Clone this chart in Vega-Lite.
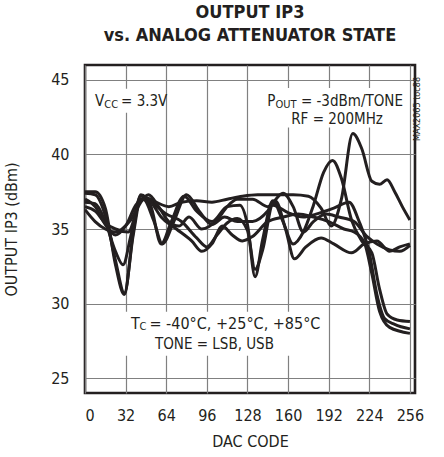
{
  "$schema": "https://vega.github.io/schema/vega-lite/v6.json",
  "width": 330,
  "height": 328,
  "autosize": {"type": "none"},
  "padding": {"left": 85, "top": 65, "right": 29, "bottom": 64},
  "background": "white",
  "config": {
    "font": "DejaVu Sans Condensed, sans-serif",
    "view": {"stroke": "#231f20", "strokeWidth": 2.6},
    "axis": {
      "domain": false, "ticks": false, "grid": true, "gridColor": "#808080", "gridWidth": 1.2, "gridOpacity": 1,
      "labelFont": "DejaVu Sans Condensed, sans-serif", "labelFontSize": 16, "labelColor": "#231f20",
      "titleFont": "DejaVu Sans Condensed, sans-serif", "titleFontSize": 16, "titleFontWeight": "normal", "titleColor": "#231f20"
    }
  },
  "title": {
    "text": ["OUTPUT IP3", "vs. ANALOG ATTENUATOR STATE"],
    "font": "DejaVu Sans Condensed, sans-serif",
    "fontSize": 18, "fontWeight": "bold", "lineHeight": 23, "color": "#231f20",
    "anchor": "middle", "offset": 20
  },
  "datasets": {
    "curves": [
      {"c": "A", "x": 0, "y": 37.5}, {"c": "A", "x": 8, "y": 37.5}, {"c": "A", "x": 16, "y": 36.4}, {"c": "A", "x": 24, "y": 32.6}, {"c": "A", "x": 31, "y": 30.6}, {"c": "A", "x": 38, "y": 34.8}, {"c": "A", "x": 44, "y": 37.3}, {"c": "A", "x": 52, "y": 36.5}, {"c": "A", "x": 60, "y": 34.0}, {"c": "A", "x": 68, "y": 35.5}, {"c": "A", "x": 78, "y": 37.2}, {"c": "A", "x": 88, "y": 36.2}, {"c": "A", "x": 100, "y": 35.5}, {"c": "A", "x": 112, "y": 36.5}, {"c": "A", "x": 122, "y": 36.6}, {"c": "A", "x": 128, "y": 35.3}, {"c": "A", "x": 134, "y": 31.8}, {"c": "A", "x": 140, "y": 34.3}, {"c": "A", "x": 148, "y": 36.9}, {"c": "A", "x": 156, "y": 35.5}, {"c": "A", "x": 164, "y": 34.0}, {"c": "A", "x": 172, "y": 34.8}, {"c": "A", "x": 180, "y": 36.6}, {"c": "A", "x": 188, "y": 38.8}, {"c": "A", "x": 195, "y": 39.6}, {"c": "A", "x": 202, "y": 38.4}, {"c": "A", "x": 210, "y": 35.6}, {"c": "A", "x": 218, "y": 34.2}, {"c": "A", "x": 226, "y": 33.4}, {"c": "A", "x": 232, "y": 31.0}, {"c": "A", "x": 238, "y": 29.3}, {"c": "A", "x": 246, "y": 28.9}, {"c": "A", "x": 256, "y": 28.8},
      {"c": "B", "x": 0, "y": 37.4}, {"c": "B", "x": 8, "y": 37.3}, {"c": "B", "x": 16, "y": 35.9}, {"c": "B", "x": 24, "y": 32.9}, {"c": "B", "x": 31, "y": 30.7}, {"c": "B", "x": 38, "y": 34.6}, {"c": "B", "x": 44, "y": 37.0}, {"c": "B", "x": 52, "y": 36.8}, {"c": "B", "x": 64, "y": 36.0}, {"c": "B", "x": 76, "y": 35.5}, {"c": "B", "x": 88, "y": 34.4}, {"c": "B", "x": 96, "y": 33.8}, {"c": "B", "x": 104, "y": 34.6}, {"c": "B", "x": 112, "y": 35.4}, {"c": "B", "x": 120, "y": 35.7}, {"c": "B", "x": 128, "y": 34.9}, {"c": "B", "x": 134, "y": 32.3}, {"c": "B", "x": 140, "y": 33.6}, {"c": "B", "x": 148, "y": 36.6}, {"c": "B", "x": 160, "y": 36.1}, {"c": "B", "x": 172, "y": 35.8}, {"c": "B", "x": 182, "y": 36.0}, {"c": "B", "x": 196, "y": 36.4}, {"c": "B", "x": 208, "y": 36.8}, {"c": "B", "x": 216, "y": 35.5}, {"c": "B", "x": 224, "y": 33.4}, {"c": "B", "x": 230, "y": 30.6}, {"c": "B", "x": 236, "y": 29.0}, {"c": "B", "x": 244, "y": 28.6}, {"c": "B", "x": 256, "y": 28.3},
      {"c": "C", "x": 0, "y": 36.8}, {"c": "C", "x": 8, "y": 36.7}, {"c": "C", "x": 16, "y": 35.5}, {"c": "C", "x": 24, "y": 33.5}, {"c": "C", "x": 30, "y": 32.6}, {"c": "C", "x": 36, "y": 34.5}, {"c": "C", "x": 44, "y": 37.2}, {"c": "C", "x": 52, "y": 36.8}, {"c": "C", "x": 60, "y": 35.8}, {"c": "C", "x": 72, "y": 35.0}, {"c": "C", "x": 84, "y": 34.2}, {"c": "C", "x": 92, "y": 33.5}, {"c": "C", "x": 100, "y": 34.0}, {"c": "C", "x": 108, "y": 35.2}, {"c": "C", "x": 116, "y": 34.6}, {"c": "C", "x": 124, "y": 34.2}, {"c": "C", "x": 132, "y": 34.5}, {"c": "C", "x": 144, "y": 35.5}, {"c": "C", "x": 156, "y": 35.8}, {"c": "C", "x": 168, "y": 36.0}, {"c": "C", "x": 180, "y": 35.8}, {"c": "C", "x": 192, "y": 35.5}, {"c": "C", "x": 204, "y": 35.0}, {"c": "C", "x": 212, "y": 34.8}, {"c": "C", "x": 220, "y": 34.1}, {"c": "C", "x": 226, "y": 32.0}, {"c": "C", "x": 232, "y": 29.5}, {"c": "C", "x": 240, "y": 28.4}, {"c": "C", "x": 256, "y": 28.0},
      {"c": "D", "x": 0, "y": 37.0}, {"c": "D", "x": 8, "y": 36.5}, {"c": "D", "x": 16, "y": 35.3}, {"c": "D", "x": 24, "y": 34.6}, {"c": "D", "x": 32, "y": 35.2}, {"c": "D", "x": 40, "y": 36.6}, {"c": "D", "x": 48, "y": 37.1}, {"c": "D", "x": 56, "y": 36.8}, {"c": "D", "x": 66, "y": 36.5}, {"c": "D", "x": 76, "y": 36.8}, {"c": "D", "x": 88, "y": 36.9}, {"c": "D", "x": 100, "y": 36.8}, {"c": "D", "x": 112, "y": 37.0}, {"c": "D", "x": 124, "y": 37.2}, {"c": "D", "x": 136, "y": 37.3}, {"c": "D", "x": 150, "y": 37.3}, {"c": "D", "x": 164, "y": 37.3}, {"c": "D", "x": 176, "y": 37.2}, {"c": "D", "x": 186, "y": 36.4}, {"c": "D", "x": 194, "y": 35.2}, {"c": "D", "x": 202, "y": 37.0}, {"c": "D", "x": 211, "y": 41.4}, {"c": "D", "x": 218, "y": 40.4}, {"c": "D", "x": 226, "y": 38.2}, {"c": "D", "x": 232, "y": 38.0}, {"c": "D", "x": 238, "y": 38.3}, {"c": "D", "x": 244, "y": 37.5}, {"c": "D", "x": 250, "y": 36.5}, {"c": "D", "x": 256, "y": 35.6},
      {"c": "E", "x": 0, "y": 36.5}, {"c": "E", "x": 8, "y": 36.2}, {"c": "E", "x": 16, "y": 35.4}, {"c": "E", "x": 24, "y": 35.0}, {"c": "E", "x": 34, "y": 34.8}, {"c": "E", "x": 42, "y": 36.5}, {"c": "E", "x": 50, "y": 37.3}, {"c": "E", "x": 58, "y": 36.5}, {"c": "E", "x": 66, "y": 35.5}, {"c": "E", "x": 74, "y": 35.2}, {"c": "E", "x": 82, "y": 35.8}, {"c": "E", "x": 92, "y": 35.0}, {"c": "E", "x": 104, "y": 35.6}, {"c": "E", "x": 112, "y": 36.5}, {"c": "E", "x": 120, "y": 37.0}, {"c": "E", "x": 132, "y": 37.0}, {"c": "E", "x": 144, "y": 36.5}, {"c": "E", "x": 156, "y": 37.4}, {"c": "E", "x": 164, "y": 36.5}, {"c": "E", "x": 172, "y": 34.8}, {"c": "E", "x": 180, "y": 35.5}, {"c": "E", "x": 190, "y": 36.0}, {"c": "E", "x": 200, "y": 35.8}, {"c": "E", "x": 212, "y": 35.5}, {"c": "E", "x": 222, "y": 34.5}, {"c": "E", "x": 230, "y": 34.0}, {"c": "E", "x": 240, "y": 33.6}, {"c": "E", "x": 248, "y": 33.5}, {"c": "E", "x": 256, "y": 33.9},
      {"c": "F", "x": 0, "y": 36.3}, {"c": "F", "x": 8, "y": 35.5}, {"c": "F", "x": 16, "y": 35.0}, {"c": "F", "x": 24, "y": 34.8}, {"c": "F", "x": 36, "y": 35.6}, {"c": "F", "x": 46, "y": 37.0}, {"c": "F", "x": 54, "y": 35.6}, {"c": "F", "x": 61, "y": 34.0}, {"c": "F", "x": 70, "y": 35.5}, {"c": "F", "x": 80, "y": 37.3}, {"c": "F", "x": 90, "y": 36.2}, {"c": "F", "x": 100, "y": 35.3}, {"c": "F", "x": 110, "y": 35.8}, {"c": "F", "x": 120, "y": 35.5}, {"c": "F", "x": 132, "y": 35.5}, {"c": "F", "x": 144, "y": 36.2}, {"c": "F", "x": 150, "y": 36.9}, {"c": "F", "x": 158, "y": 35.0}, {"c": "F", "x": 165, "y": 33.0}, {"c": "F", "x": 174, "y": 33.8}, {"c": "F", "x": 186, "y": 34.4}, {"c": "F", "x": 196, "y": 34.0}, {"c": "F", "x": 210, "y": 33.4}, {"c": "F", "x": 220, "y": 34.0}, {"c": "F", "x": 230, "y": 34.2}, {"c": "F", "x": 240, "y": 33.5}, {"c": "F", "x": 248, "y": 33.8}, {"c": "F", "x": 256, "y": 34.0}
    ],
    "boxes": [
      {"x": 4, "x2": 60, "y": 44.4, "y2": 42.8},
      {"x": 140, "x2": 253, "y": 44.45, "y2": 41.8},
      {"x": 28, "x2": 172, "y": 29.45, "y2": 26.5}
    ],
    "leftText": [
      {"t": "V", "x": 7.8, "y": 43.6, "s": 15},
      {"t": "CC", "x": 15.2, "y": 43.35, "s": 11},
      {"t": "= 3.3V", "x": 28.4, "y": 43.6, "s": 15},
      {"t": "P", "x": 143.5, "y": 43.6, "s": 15},
      {"t": "OUT", "x": 150.0, "y": 43.35, "s": 11},
      {"t": "T", "x": 36.3, "y": 28.66, "s": 16},
      {"t": "C", "x": 42.9, "y": 28.4, "s": 11},
      {"t": "= -40°C, +25°C, +85°C", "x": 50.8, "y": 28.66, "s": 16}
    ],
    "rightText": [
      {"t": "= -3dBm/TONE", "x": 250.5, "y": 43.6, "s": 15}
    ],
    "centerText": [
      {"t": "RF = 200MHz", "x": 198.6, "y": 42.38, "s": 15, "a": 0},
      {"t": "TONE = LSB, USB", "x": 102, "y": 27.26, "s": 15, "a": 0},
      {"t": "MAX2065 toc88", "x": 261.4, "y": 43.05, "s": 9, "a": 270}
    ]
  },
  "layer": [
    {
      "data": {"name": "boxes"},
      "mark": {"type": "rect", "fill": "white", "stroke": null},
      "encoding": {
        "x": {"field": "x", "type": "quantitative", "scale": {"domain": [0, 256]}, "axis": {"values": [0, 32, 64, 96, 128, 160, 192, 224, 256], "title": "DAC CODE", "labelPadding": 14, "titlePadding": 10}},
        "x2": {"field": "x2"},
        "y": {"field": "y", "type": "quantitative", "scale": {"domain": [25, 45]}, "axis": {"values": [25, 30, 35, 40, 45], "title": "OUTPUT IP3 (dBm)", "labelPadding": 16, "titlePadding": 31}},
        "y2": {"field": "y2"}
      }
    },
    {
      "data": {"name": "curves"},
      "mark": {"type": "line", "interpolate": "monotone", "stroke": "#231f20", "strokeWidth": 3, "clip": true},
      "encoding": {
        "x": {"field": "x", "type": "quantitative"},
        "y": {"field": "y", "type": "quantitative"},
        "detail": {"field": "c", "type": "nominal"}
      }
    },
    {
      "data": {"name": "leftText"},
      "mark": {"type": "text", "align": "left", "baseline": "middle", "color": "#231f20"},
      "encoding": {
        "x": {"field": "x", "type": "quantitative"},
        "y": {"field": "y", "type": "quantitative"},
        "text": {"field": "t"},
        "size": {"field": "s", "type": "quantitative", "scale": null}
      }
    },
    {
      "data": {"name": "rightText"},
      "mark": {"type": "text", "align": "right", "baseline": "middle", "color": "#231f20"},
      "encoding": {
        "x": {"field": "x", "type": "quantitative"},
        "y": {"field": "y", "type": "quantitative"},
        "text": {"field": "t"},
        "size": {"field": "s", "type": "quantitative", "scale": null}
      }
    },
    {
      "data": {"name": "centerText"},
      "mark": {"type": "text", "align": "center", "baseline": "middle", "color": "#231f20"},
      "encoding": {
        "x": {"field": "x", "type": "quantitative"},
        "y": {"field": "y", "type": "quantitative"},
        "text": {"field": "t"},
        "size": {"field": "s", "type": "quantitative", "scale": null},
        "angle": {"field": "a", "type": "quantitative", "scale": null}
      }
    }
  ]
}
